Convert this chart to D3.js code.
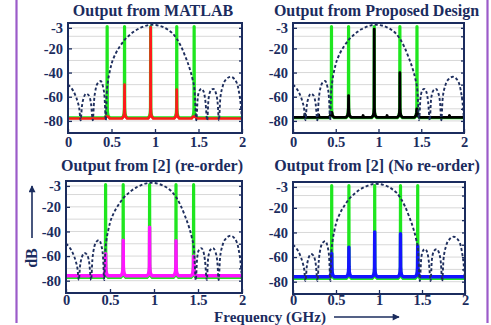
<!DOCTYPE html>
<html><head><meta charset="utf-8">
<script src="https://cdn.jsdelivr.net/npm/d3@7"></script>
<style>
html,body{margin:0;padding:0;background:#fff;}
svg{display:block;}
text{font-family:"Liberation Serif","Times New Roman",serif;font-weight:bold;fill:#1b2c5e;}
</style></head>
<body>
<svg id="chart" width="491" height="325"></svg>
<script>
// ---------- DATA ----------
const panelTitles = ["Output from MATLAB", "Output from Proposed Design", "Output from [2] (re-order)", "Output from [2] (No re-order)"];
const freqTicks = [0, 0.5, 1, 1.5, 2];
const freqTickLabels = ["0", "0.5", "1", "1.5", "2"];
const dbTicks = [-3, -20, -40, -60, -80];
const dbTickLabels = ["-3", "-20", "-40", "-60", "-80"];
const gridDb = [-3, -10, -20, -30, -40, -50, -60, -70, -80];
const toneFreqs = [0.45, 0.65, 0.95, 1.25, 1.45];        // GHz
const idealPeaks = [-2, -2, -2, -2, -2];                 // dB (green)
const matlabPeaks = [-76.5, -50, -2.5, -54, -76.5];      // red
const proposedPeaks = [-73, -59, -4, -40, -70];          // black
const reorderPeaks = [-58, -47, -36.5, -47.5, -60];      // magenta
const noReorderPeaks = [-57, -52, -39.5, -41, -51];      // blue
const floorLevels = {ideal: -77.4, matlab: -78, proposed: -77, reorder: -76, noReorder: -76};
const proposedSpurs = [[0.14, -74.5], [0.3, -75], [0.82, -75.5], [1.1, -75.5], [1.83, -75.5]];
// filter response (dashed)
const filterCurve = [
  [0, -50], [0.04, -53], [0.08, -58], [0.11, -64], [0.13, -70], [0.145, -79.5],
  [0.16, -68], [0.18, -61], [0.21, -57.5], [0.24, -59], [0.265, -66], [0.285, -79.5],
  [0.3, -63], [0.32, -53], [0.35, -48], [0.375, -47], [0.4, -51], [0.42, -60], [0.435, -79.5],
  [0.445, -58], [0.46, -47], [0.48, -39], [0.5, -33], [0.55, -24], [0.6, -18], [0.65, -13],
  [0.7, -9.5], [0.75, -6.5], [0.8, -4.2], [0.85, -2.5], [0.9, -1.2], [0.95, -0.5], [1.0, -0.6],
  [1.05, -1.3], [1.1, -2.6], [1.15, -4.6], [1.2, -7.5], [1.25, -12], [1.3, -18.5], [1.35, -27],
  [1.4, -37], [1.43, -45], [1.455, -55], [1.475, -79.5],
  [1.49, -62], [1.51, -55], [1.535, -53.5], [1.56, -56], [1.58, -64], [1.6, -79.5],
  [1.615, -62], [1.64, -55], [1.67, -53.5], [1.7, -57], [1.72, -65], [1.735, -79.5],
  [1.75, -62], [1.78, -51], [1.82, -45.5], [1.87, -43.5], [1.92, -46], [1.96, -54], [1.99, -70], [2.0, -79.5]
];

// ---------- helpers ----------
const NAVY = "#1b2c5e";
function buildSpectrum(peaks, floorDb, spurs) {
  const pts = [[0, floorDb], [2, floorDb]];
  const skirt = [[0.03, 0], [0.012, 1.5], [0.005, 4], [0.002, 8]];
  toneFreqs.forEach((f0, i) => {
    const p = peaks[i];
    skirt.forEach(([df, up]) => {
      const v = Math.min(p, floorDb + up);
      pts.push([f0 - df, v]); pts.push([f0 + df, v]);
    });
    pts.push([f0, p]);
  });
  (spurs || []).forEach(([f, v]) => {
    pts.push([f - 0.006, floorDb]); pts.push([f, v]); pts.push([f + 0.006, floorDb]);
  });
  return pts.sort((a, b) => a[0] - b[0]);
}

const panels = [
  {x0: 68, x1: 242, y0: 23, y1: 133, tY: 16, pad: 4, peaks: matlabPeaks, floor: floorLevels.matlab, color: "#ff1a1a", w: 2.7},
  {x0: 293, x1: 464, y0: 23, y1: 133, tY: 16, pad: 4, peaks: proposedPeaks, floor: floorLevels.proposed, color: "#000000", w: 2.8, spurs: proposedSpurs},
  {x0: 66, x1: 242, y0: 181, y1: 293, tY: 171, pad: 2, peaks: reorderPeaks, floor: floorLevels.reorder, color: "#ff14ff", w: 3.4},
  {x0: 293, x1: 465, y0: 182, y1: 294, tY: 171, pad: 1, peaks: noReorderPeaks, floor: floorLevels.noReorder, color: "#1414ff", w: 3.4}
];

const svg = d3.select("#chart");
svg.append("rect").attr("width", 491).attr("height", 325).attr("fill", "#fff");

// side purple rules
svg.append("line").attr("x1", 16.5).attr("x2", 16.5).attr("y1", 0).attr("y2", 323).attr("stroke", "#9b5bc9").attr("stroke-width", 2.2);
svg.append("line").attr("x1", 487.5).attr("x2", 487.5).attr("y1", 0).attr("y2", 323).attr("stroke", "#9b5bc9").attr("stroke-width", 2.2);

const defs = svg.append("defs");
const idealData = buildSpectrum(idealPeaks, floorLevels.ideal);

panels.forEach((p, i) => {
  const x = d3.scaleLinear().domain([0, 2]).range([p.x0, p.x1]);
  const y = d3.scaleLinear().domain([-90, 1]).range([p.y1, p.y0]);
  const g = svg.append("g");
  const clipId = "clip" + i;
  defs.append("clipPath").attr("id", clipId).append("rect")
    .attr("x", p.x0).attr("y", p.y0).attr("width", p.x1 - p.x0).attr("height", p.y1 - p.y0);

  // grid
  g.append("g").selectAll("line").data(gridDb).join("line")
    .attr("x1", p.x0).attr("x2", p.x1)
    .attr("y1", d => y(d)).attr("y2", d => y(d))
    .attr("stroke", "#d8d8d8").attr("stroke-width", 1);

  const line = d3.line().x(d => x(d[0])).y(d => y(d[1]));
  const plot = g.append("g").attr("clip-path", `url(#${clipId})`);
  plot.append("path").datum(idealData).attr("d", line)
    .attr("fill", "none").attr("stroke", "#1fe61f").attr("stroke-width", 3.2).attr("stroke-linejoin", "round");
  plot.append("path").datum(buildSpectrum(p.peaks, p.floor, p.spurs)).attr("d", line)
    .attr("fill", "none").attr("stroke", p.color).attr("stroke-width", p.w).attr("stroke-linejoin", "round");
  plot.append("path").datum(filterCurve).attr("d", line.curve(d3.curveMonotoneX))
    .attr("fill", "none").attr("stroke", "#1f2f5e").attr("stroke-width", 1.9).attr("stroke-dasharray", "3,2.2");

  // axes
  const ya = g.append("g").attr("transform", `translate(${p.x0},0)`)
    .call(d3.axisLeft(y).tickValues(dbTicks).tickSizeInner(-4).tickSizeOuter(0).tickPadding(5)
      .tickFormat((d, k) => dbTickLabels[k]));
  const yr = g.append("g").attr("transform", `translate(${p.x1},0)`)
    .call(d3.axisRight(y).tickValues(gridDb).tickSizeInner(-3).tickSizeOuter(0).tickFormat(""));
  const xa = g.append("g").attr("transform", `translate(0,${p.y1})`)
    .call(d3.axisBottom(x).tickValues(freqTicks).tickSizeInner(-4).tickSizeOuter(0).tickPadding(p.pad)
      .tickFormat((d, k) => freqTickLabels[k]));
  [ya, yr, xa].forEach(a => {
    a.select(".domain").remove();
    a.selectAll("line").attr("stroke", NAVY).attr("stroke-width", 1.3);
    a.selectAll("text").style("font-family", '"Liberation Serif", serif').style("font-weight", "bold")
      .style("font-size", "14.5px").attr("fill", NAVY);
  });
  xa.selectAll("text").attr("dy", "0.71em");

  // frame
  g.append("rect").attr("x", p.x0).attr("y", p.y0).attr("width", p.x1 - p.x0).attr("height", p.y1 - p.y0)
    .attr("fill", "none").attr("stroke", NAVY).attr("stroke-width", 2);

  // title
  g.append("text").attr("x", (p.x0 + p.x1) / 2 - 2).attr("y", p.tY).attr("text-anchor", "middle")
    .style("font-size", "16px").text(panelTitles[i]);
});

// axis labels with arrows
defs.append("marker").attr("id", "arr").attr("viewBox", "0 0 10 10").attr("refX", 9).attr("refY", 5)
  .attr("markerWidth", 9).attr("markerHeight", 7).attr("markerUnits", "userSpaceOnUse").attr("orient", "auto")
  .append("path").attr("d", "M0,0 L10,5 L0,10 z").attr("fill", NAVY);

svg.append("text").attr("transform", "translate(37,258) rotate(-90)").attr("text-anchor", "middle")
  .style("font-size", "16px").text("dB");
svg.append("line").attr("x1", 32).attr("x2", 32).attr("y1", 238).attr("y2", 186)
  .attr("stroke", NAVY).attr("stroke-width", 1.6).attr("marker-end", "url(#arr)");

svg.append("text").attr("x", 270).attr("y", 322).attr("text-anchor", "middle")
  .style("font-size", "15px").text("Frequency (GHz)");
svg.append("line").attr("x1", 334).attr("x2", 399).attr("y1", 317).attr("y2", 317)
  .attr("stroke", NAVY).attr("stroke-width", 1.6).attr("marker-end", "url(#arr)");
</script>
</body></html>
